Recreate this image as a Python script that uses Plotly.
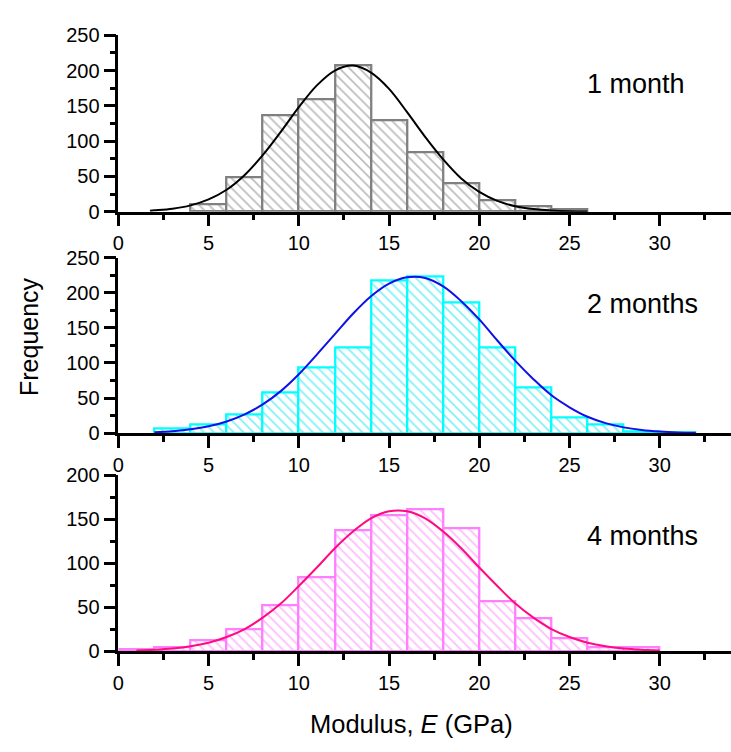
import plotly.graph_objects as go

W, H = 731, 752

# ---- data ----
bins1_left = [4, 6, 8, 10, 12, 14, 16, 18, 20, 22, 24]
counts1 = [10, 49, 136, 160, 207, 130, 84, 40, 16, 8, 3]
fit1_x = [1.75, 2, 3, 4, 5, 6, 7, 8, 9, 10, 11, 12, 13, 14, 15, 16, 17, 18, 19, 20, 21, 22, 23, 24, 25, 26]
fit1_y = [1.4, 1.9, 4.2, 8.9, 17.4, 31, 52, 80, 113, 148, 179, 200, 207, 197, 174, 141, 106, 74, 47, 28, 15.3, 7.7, 3.6, 1.6, 0.6, 0.2]

bins2_left = [2, 4, 6, 8, 10, 12, 14, 16, 18, 20, 22, 24, 26, 28, 30]
counts2 = [6, 13, 26, 58, 93, 122, 217, 223, 186, 122, 65, 23, 12, 3, 1.5]
fit2_x = [2, 3, 4, 5, 6, 7, 8, 9, 10, 11, 12, 13, 14, 15, 16, 17, 18, 19, 20, 21, 22, 23, 24, 25, 26, 27, 28, 29, 30, 31, 32]
fit2_y = [1.5, 3.0, 5.6, 9.9, 16.8, 27, 41, 60, 84, 112, 141, 170, 195, 213, 222, 221, 209, 188, 162, 132, 103, 77, 54, 37, 23.5, 14.4, 8.4, 4.7, 2.5, 1.2, 0.6]

bins3_left = [0, 2, 4, 6, 8, 10, 12, 14, 16, 18, 20, 22, 24, 26, 28]
counts3 = [2, 4, 12, 25, 52, 84, 137, 154, 161, 140, 57, 37, 15, 4, 4]
fit3_x = [1, 2, 3, 4, 5, 6, 7, 8, 9, 10, 11, 12, 13, 14, 15, 16, 17, 18, 19, 20, 21, 22, 23, 24, 25, 26, 27, 28, 29, 30]
fit3_y = [0.7, 1.5, 2.9, 5.4, 9.5, 15.9, 25, 38, 54, 74, 95, 117, 136, 151, 159, 159, 151, 136, 117, 95, 74, 54, 38, 25, 15.9, 9.5, 5.4, 2.9, 1.5, 0.7]

labels = ["1 month", "2 months", "4 months"]
x_ticks = [0, 5, 10, 15, 20, 25, 30]
y_ranges = [[0, 250], [0, 250], [0, 200]]

panels = [
    (bins1_left, counts1, fit1_x, fit1_y, "#808080", "#7a7a7a", "#000000"),
    (bins2_left, counts2, fit2_x, fit2_y, "#00FFFF", "#00E4F0", "#1010E8"),
    (bins3_left, counts3, fit3_x, fit3_y, "#FF80FF", "#FF78FF", "#FF0A80"),
]

# pixel layout (top, bottom) of each plot area
pix = [(25, 206.7), (254, 435), (478.3, 659.3)]
x0_pix = 113.3

fig = go.Figure()
FONT = "Arial, Liberation Sans, sans-serif"
axis_font = dict(family=FONT, size=20, color="black")

for i, (bl, cnt, fx, fy, edge, hatch, curve) in enumerate(panels):
    n = i + 1
    xa = "x" if n == 1 else f"x{n}"
    ya = "y" if n == 1 else f"y{n}"
    fig.add_trace(go.Bar(
        x=bl, y=cnt, width=[2] * len(bl), offset=0,
        marker=dict(color="white",
                    line=dict(color=edge, width=2.3),
                    pattern=dict(shape="\\", fgcolor=hatch, bgcolor="white",
                                 size=7, solidity=0.24, fillmode="overlay")),
        xaxis=xa, yaxis=ya, showlegend=False, hoverinfo="skip"))
    fig.add_trace(go.Scatter(
        x=fx, y=fy, mode="lines", line=dict(color=curve, width=2, shape="spline"),
        xaxis=xa, yaxis=ya, showlegend=False, hoverinfo="skip"))

    top, bot = pix[i]
    dom_y = [1 - bot / H, 1 - top / H]
    xkey = "xaxis" if n == 1 else f"xaxis{n}"
    ykey = "yaxis" if n == 1 else f"yaxis{n}"
    fig.layout[xkey] = dict(
        domain=[x0_pix / W, 1], range=[0, 33.95], anchor=ya,
        tickvals=x_ticks, ticktext=[str(v) for v in x_ticks],
        showgrid=False, zeroline=False, showline=True, linecolor="black", linewidth=2.6,
        ticks="outside", ticklen=12, tickwidth=2.6, tickcolor="black",
        minor=dict(dtick=2.5, tick0=0, ticks="outside", ticklen=6, tickwidth=2.6, tickcolor="black"),
        tickfont=axis_font, fixedrange=True)
    fig.layout[ykey] = dict(
        domain=dom_y, range=y_ranges[i], anchor=xa, dtick=50, tick0=0,
        showgrid=False, zeroline=False, showline=True, linecolor="black", linewidth=2.6,
        ticks="outside", ticklen=12, tickwidth=2.6, tickcolor="black",
        minor=dict(dtick=25, tick0=0, ticks="outside", ticklen=6, tickwidth=2.6, tickcolor="black"),
        tickfont=axis_font, fixedrange=True)

ann_y = [75, 302, 541]
for i, lab in enumerate(labels):
    fig.add_annotation(text=lab, xref="paper", yref="paper", x=584 / W, y=1 - ann_y[i] / H,
                       xanchor="left", yanchor="middle", showarrow=False,
                       font=dict(family=FONT, size=27, color="black"))

fig.add_annotation(text="Frequency", xref="paper", yref="paper", x=23 / W, y=1 - 335 / H,
                   textangle=-90, xanchor="center", yanchor="middle", showarrow=False,
                   font=dict(family=FONT, size=25, color="black"))
fig.add_annotation(text="Modulus, <i>E</i> (GPa)", xref="paper", yref="paper", x=408.5 / W, y=1 - 734 / H,
                   xanchor="center", yanchor="middle", showarrow=False,
                   font=dict(family=FONT, size=25.5, color="black"))

fig.update_layout(width=W, height=H, margin=dict(l=0, r=0, t=0, b=0),
                  plot_bgcolor="white", paper_bgcolor="white", bargap=0)

fig.write_html("out.html")
